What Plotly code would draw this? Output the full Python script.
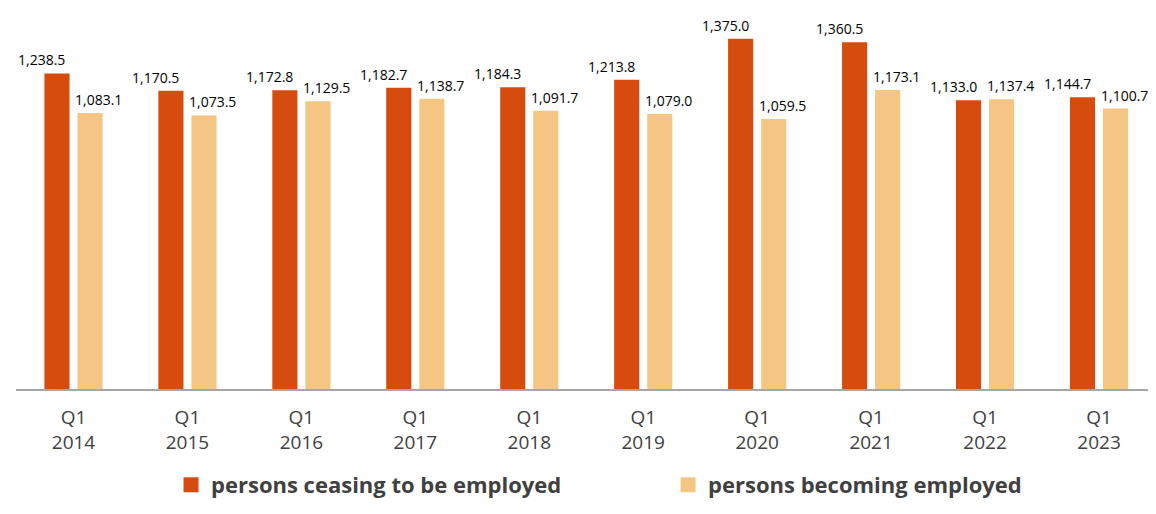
import plotly.graph_objects as go

years = ["2014", "2015", "2016", "2017", "2018", "2019", "2020", "2021", "2022", "2023"]
categories = ["Q1<br>" + y for y in years]
ceasing = [1238.5, 1170.5, 1172.8, 1182.7, 1184.3, 1213.8, 1375.0, 1360.5, 1133.0, 1144.7]
becoming = [1083.1, 1073.5, 1129.5, 1138.7, 1091.7, 1079.0, 1059.5, 1173.1, 1137.4, 1100.7]
names = ["persons ceasing to be employed", "persons becoming employed"]

DARK = "#D64B0E"
LIGHT = "#F5C583"
TXT = "#404040"
FONT = "Open Sans"

fig = go.Figure()
fig.add_trace(go.Bar(x=categories, y=ceasing, name=names[0], marker_color=DARK,
                     marker_line_width=0, showlegend=False))
fig.add_trace(go.Bar(x=categories, y=becoming, name=names[1], marker_color=LIGHT,
                     marker_line_width=0, showlegend=False))
# legend entries (square swatches)
fig.add_trace(go.Scatter(x=[None], y=[None], mode="markers", name=names[0],
                         marker=dict(symbol="square", size=15, color=DARK),
                         legend="legend"))
fig.add_trace(go.Scatter(x=[None], y=[None], mode="markers", name=names[1],
                         marker=dict(symbol="square", size=15, color=LIGHT),
                         legend="legend2"))

fmt = lambda v: f"{v:,.1f}"
for c, v in zip(categories, ceasing):
    fig.add_annotation(x=c, y=v, text=fmt(v), showarrow=False, xref="x", yref="y",
                       xanchor="center", yanchor="bottom", xshift=-32, yshift=2,
                       font=dict(family=FONT, size=14, color="#000000"))
for c, v in zip(categories, becoming):
    fig.add_annotation(x=c, y=v, text=fmt(v), showarrow=False, xref="x", yref="y",
                       xanchor="center", yanchor="bottom", xshift=25, yshift=2,
                       font=dict(family=FONT, size=14, color="#000000"))

legend_common = dict(orientation="h", xanchor="left", yref="container", y=-0.02,
                     yanchor="bottom",
                     font=dict(family=FONT, size=22, color=TXT, weight="bold"))

fig.update_layout(
    width=1148, height=498,
    margin=dict(l=8, r=0, t=9, b=117),
    paper_bgcolor="white", plot_bgcolor="white",
    barmode="group", bargap=0.42, bargroupgap=0.24,
    font=dict(family=FONT, color=TXT),
    legend=dict(x=0.136, **legend_common),
    legend2=dict(x=0.572, **legend_common),
    showlegend=True,
)
fig.update_xaxes(showline=True, linecolor="#A6A6A6", linewidth=2,
                 ticks="outside", ticklen=10, tickcolor="rgba(0,0,0,0)",
                 tickfont=dict(family=FONT, size=19, color=TXT), showgrid=False)
fig.update_yaxes(range=[0, 1460], visible=False, showgrid=False, zeroline=False)

fig.write_html("out.html")
